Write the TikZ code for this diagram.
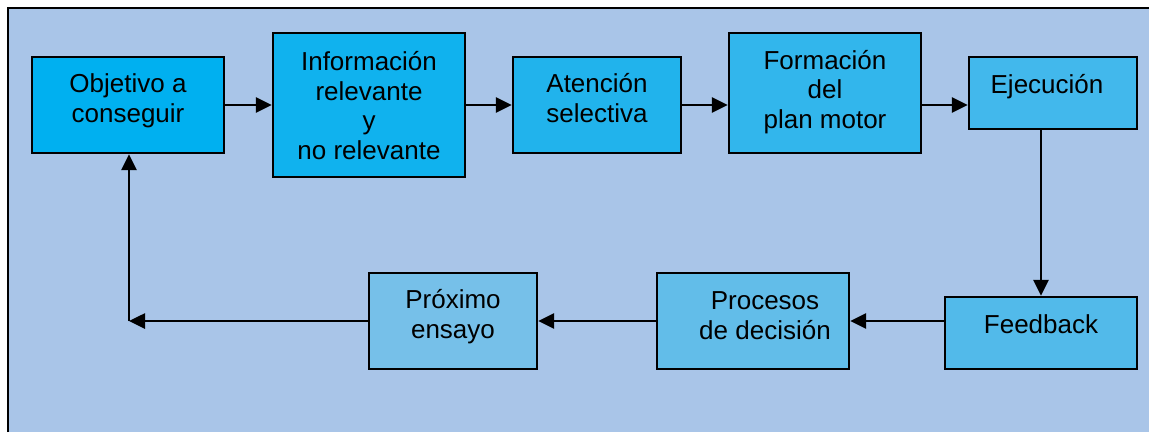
\documentclass[tikz,border=0pt]{standalone}
\usepackage{fontspec}
\setmainfont{Liberation Sans}
\usetikzlibrary{arrows.meta}
\definecolor{bgblue}{HTML}{A9C5E8}
\definecolor{cA}{HTML}{00B0F0}
\definecolor{cB}{HTML}{10B2EE}
\definecolor{cC}{HTML}{21B3EC}
\definecolor{cD}{HTML}{32B6EC}
\definecolor{cE}{HTML}{42B8EC}
\definecolor{cF}{HTML}{52BAEA}
\definecolor{cG}{HTML}{62BDE9}
\definecolor{cH}{HTML}{76C0E9}
\tikzset{
  boxnode/.style={draw=black, line width=2.4pt, rectangle, inner sep=0pt},
  txt/.style={font=\fontsize{26}{29.5}\selectfont, align=center, inner sep=0pt, anchor=base},
  conn/.style={line width=2.6pt, -{Triangle[length=16pt,width=15pt]}},
}
\begin{document}
\begin{tikzpicture}[x=1pt,y=-1pt]
\useasboundingbox (0,0) rectangle (1149,432);
\fill[white] (0,0) rectangle (1149,432);
\fill[bgblue] (8,8) rectangle (1149,432);
\draw[line width=2pt] (8,432) -- (8,8) -- (1149,8);

% boxes
\node[boxnode, fill=cA, minimum width=192pt, minimum height=96pt] (obj) at (128,105) {};
\node[boxnode, fill=cB, minimum width=192pt, minimum height=144pt] (info) at (369,105) {};
\node[boxnode, fill=cC, minimum width=168pt, minimum height=96pt] (att) at (597,105) {};
\node[boxnode, fill=cD, minimum width=192pt, minimum height=120pt] (form) at (825,93) {};
\node[boxnode, fill=cE, minimum width=168pt, minimum height=72pt] (eje) at (1053,93) {};
\node[boxnode, fill=cF, minimum width=192pt, minimum height=72pt] (fb) at (1041,333) {};
\node[boxnode, fill=cG, minimum width=192pt, minimum height=96pt] (proc) at (753,321) {};
\node[boxnode, fill=cH, minimum width=168pt, minimum height=96pt] (prox) at (453,321) {};

% texts (anchored at the baseline of the last line)
\node[txt] (objt) at (128,122) {Objetivo a\\conseguir};
\node[txt] (infot) at (369,159) {Información\\relevante\\y\\no relevante};
\node[txt] (attt) at (597,122) {Atención\\selectiva};
\node[txt] (formt) at (825,128) {Formación\\del\\plan motor};
\node[txt] (ejet) at (1047,93) {Ejecución};
\node[txt] (fbt) at (1041,333) {Feedback};
\node[txt] (proct) at (765,339) {Procesos\\de decisión};
\node[txt] (proxt) at (453,338) {Próximo\\ensayo};

% connectors
\coordinate (corner) at (129,321);
\draw[conn] (obj.east) -- (info.west);
\draw[conn] (info.east) -- (att.west);
\draw[conn] (att.east) -- (form.west |- att.east);
\draw[conn] (form.east |- att.east) -- (eje.west |- att.east);
\draw[conn] (eje.south -| fb.north) -- (fb.north);
\draw[conn] (fb.west |- proc.east) -- (proc.east);
\draw[conn] (proc.west) -- (prox.east);
\draw[conn] (prox.west) -- (corner);
\draw[conn] (corner) -- (corner |- obj.south);
\end{tikzpicture}
\end{document}
